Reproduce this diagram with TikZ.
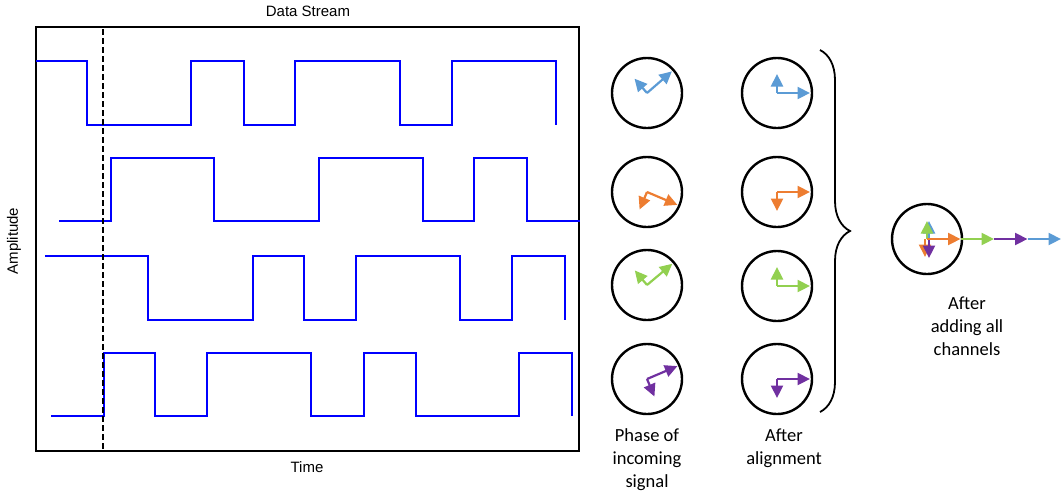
\documentclass[tikz,border=0pt]{standalone}
\usepackage{fontspec}
\setmainfont{Liberation Sans}
\newfontfamily\carlito{Carlito}
\usepackage{tikz}
\usetikzlibrary{positioning,arrows.meta,decorations.pathreplacing}
\definecolor{sigblue}{HTML}{0000FF}
\definecolor{phblue}{HTML}{5B9BD5}
\definecolor{phorange}{HTML}{ED7D31}
\definecolor{phgreen}{HTML}{92D050}
\definecolor{phpurple}{HTML}{7030A0}
\tikzset{
    axlbl/.style={font=\fontsize{15}{18}\selectfont,inner sep=0pt},
    lbl/.style={font=\carlito\fontsize{18.5}{23}\selectfont,align=center,inner sep=2pt},
    frame/.style={draw=black,line width=1.6pt},
    wave/.style={draw=sigblue,line width=2.8pt},
    marker/.style={draw=black,line width=2pt,dash pattern=on 6pt off 3pt},
    dial/.style={circle,draw=black,line width=2.4pt,minimum size=70pt,inner sep=0pt},
    vec/.style={line width=2.2pt,-{Triangle[length=12.5pt,width=12pt]}},
    bigbrace/.style={decorate,decoration={brace,amplitude=30pt},line width=1.8pt}
}
\begin{document}
\begin{tikzpicture}[x=1pt,y=-1pt]
    \useasboundingbox (0,0) rectangle (1062,493);
    % data stream plot
    \draw[frame] (36,27) rectangle (579,451);
    \node[axlbl] (title) at (308,11) {Data Stream};
    \node[axlbl] (time) at (307,467) {Time};
    \node[axlbl,rotate=90] (amp) at (14,241) {Amplitude};
    \draw[wave] (36,61) -| (87,125) -| (191,61) -| (244,125) -| (295,61) -| (400,125) -| (452,61) -| (556,125);
    \draw[wave] (59,221) -| (111,158) -| (214,221) -| (319,158) -| (423,221) -| (474,158) -| (527,221) -- (580,221);
    \draw[wave] (45,256) -| (148,320) -| (253,256) -| (304,320) -| (356,256) -| (460,320) -| (512,256) -| (565,320);
    \draw[wave] (51,416) -| (104,353) -| (155,416) -| (207,353) -| (311,416) -| (364,353) -| (416,416) -| (519,353) -| (572,416);
    \draw[marker] (103,29) -- (103,451);

    % phase dials
    \node[dial] (in1) at (647,93) {};
    \node[dial] (in2) at (647,192) {};
    \node[dial] (in3) at (647,285) {};
    \node[dial] (in4) at (647,379) {};
    \node[dial] (al1) at (777,93) {};
    \node[dial] (al2) at (777,192) {};
    \node[dial] (al3) at (777,286) {};
    \node[dial] (al4) at (777,379) {};
    \node[dial] (sum) at (927,239) {};
    \foreach \d/\c/\a/\b in {in1/phblue/-41/-131,in2/phorange/23/113,in3/phgreen/-40/-130,in4/phpurple/-23/67,
                             al1/phblue/0/-90,al2/phorange/0/90,al3/phgreen/0/-90,al4/phpurple/0/90}{
        \draw[vec,\c] (\d.center) -- ++(\a:33);
        \draw[vec,\c] (\d.center) -- ++(\b:19);
    }
    \node[lbl,below=11pt of in4] (inlbl) {Phase of\\incoming\\signal};
    \node[lbl,below=11pt of al4,xshift=7pt] (allbl) {After\\alignment};

    % sum of all channels
    \draw[bigbrace] (820,50) -- (820,412);
    \draw[vec,phblue] ([xshift=2pt]sum.center) -- ++(0,-18);
    \draw[vec,phgreen] (sum.center) -- ++(0,-18);
    \draw[vec,phorange] ([xshift=-2pt]sum.center) -- ++(0,18);
    \draw[vec,phpurple] ([xshift=2pt]sum.center) -- ++(0,19);
    \draw[vec,phorange] (sum.center) -- ++(33.5,0) coordinate (s1);
    \draw[vec,phgreen] (s1) -- ++(33.5,0) coordinate (s2);
    \draw[vec,phpurple] (s2) -- ++(33.5,0) coordinate (s3);
    \draw[vec,phblue] (s3) -- ++(33.5,0) coordinate (s4);
    \node[lbl,below=19pt of sum,xshift=40pt] (sumlbl) {After\\adding all\\channels};
\end{tikzpicture}
\end{document}
